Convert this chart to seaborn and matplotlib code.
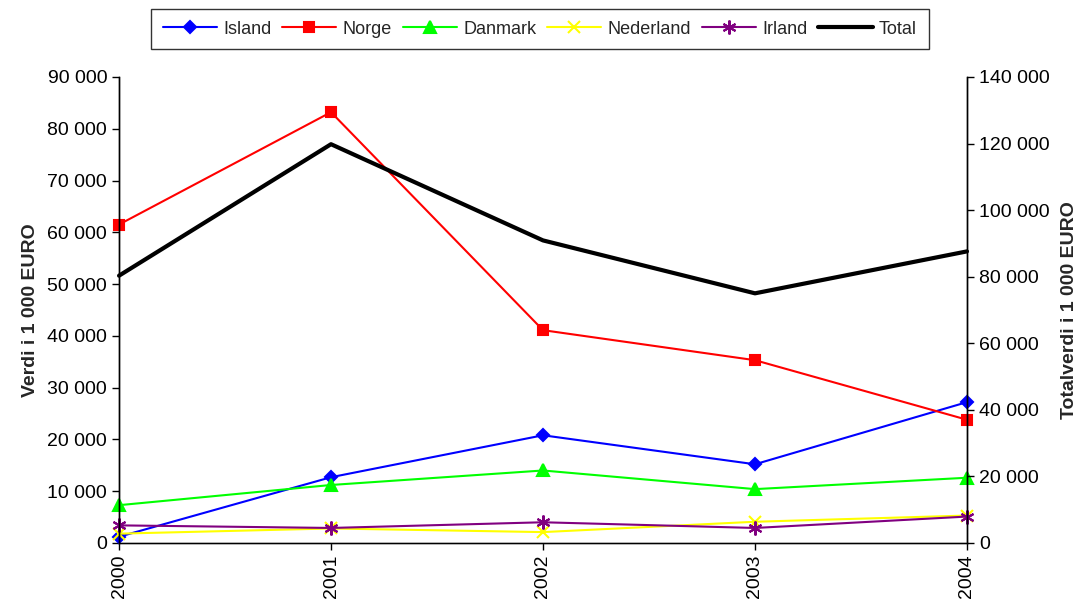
import pandas as pd
import seaborn as sns
from matplotlib import pyplot as plt
from matplotlib.ticker import FuncFormatter, MultipleLocator
from matplotlib.lines import Line2D

years = [2000, 2001, 2002, 2003, 2004]
island = [1200, 12700, 20800, 15200, 27200]
norge = [61500, 83200, 41100, 35300, 23800]
danmark = [7300, 11200, 14000, 10400, 12600]
nederland = [1800, 2800, 2100, 4100, 5300]
irland = [3400, 2900, 4000, 2900, 5100]
total = [80300, 119800, 90900, 75000, 87600]

series = [
    ("Island", island, "#0000FF", "D", 6),
    ("Norge", norge, "#FF0000", "s", 6.5),
    ("Danmark", danmark, "#00FF00", "^", 8),
    ("Nederland", nederland, "#FFFF00", "x", 8),
    ("Irland", irland, "#800080", (6, 2, 0), 10),
]


def space_fmt(v, pos):
    return f"{int(v):,}".replace(",", " ")


sns.set_theme(style="white")
plt.rcParams["font.family"] = ["Liberation Sans", "DejaVu Sans"]

fig = plt.figure(figsize=(10.86, 6.06), dpi=100)
ax = fig.add_axes([0.1096, 0.104, 0.7808, 0.769])
ax2 = ax.twinx()

handles = []
for name, vals, color, marker, ms in series:
    df = pd.DataFrame({"Year": years, "Value": vals})
    sns.lineplot(data=df, x="Year", y="Value", ax=ax, color=color, marker=marker,
                 markersize=ms, markeredgecolor=color, markeredgewidth=1.5,
                 linewidth=1.5, legend=False, clip_on=False)
    handles.append(Line2D([], [], color=color, marker=marker, markersize=ms,
                          markeredgecolor=color, markeredgewidth=1.5,
                          linewidth=1.5, label=name))

dft = pd.DataFrame({"Year": years, "Value": total})
sns.lineplot(data=dft, x="Year", y="Value", ax=ax2, color="black", linewidth=3,
             legend=False, clip_on=False)
handles.append(Line2D([], [], color="black", linewidth=3, label="Total"))

ax.set_xlim(2000, 2004)
ax.set_ylim(0, 90000)
ax2.set_ylim(0, 140000)
ax.yaxis.set_major_locator(MultipleLocator(10000))
ax2.yaxis.set_major_locator(MultipleLocator(20000))
ax.yaxis.set_major_formatter(FuncFormatter(space_fmt))
ax2.yaxis.set_major_formatter(FuncFormatter(space_fmt))
ax.set_xticks(years)
ax.set_xticklabels([str(y) for y in years], rotation=90)

for a in (ax, ax2):
    a.spines["top"].set_visible(False)
    for s in ("left", "right", "bottom"):
        a.spines[s].set_color("black")
        a.spines[s].set_linewidth(1)
    a.tick_params(axis="both", direction="out", length=5, width=1,
                  color="black", labelsize=14, labelcolor="black")
ax.tick_params(left=True, bottom=True)
ax2.tick_params(right=True)
ax.spines["bottom"].set_color("#555555")

ax.set_xlabel("")
ax.set_ylabel("Verdi i 1 000 EURO", fontsize=14, fontweight="bold", labelpad=6)
ax2.set_ylabel("Totalverdi i 1 000 EURO", fontsize=14, fontweight="bold",
               labelpad=8)

leg = fig.legend(handles=handles, loc="center", bbox_to_anchor=(0.497, 0.952),
                 ncol=6, frameon=True, fontsize=13, handlelength=3.0,
                 columnspacing=0.6, handletextpad=0.35, borderpad=0.65)
leg.get_frame().set_edgecolor("black")
leg.get_frame().set_linewidth(1)
leg.get_frame().set_boxstyle("square", pad=0)

fig.savefig("out.png", dpi=100)
